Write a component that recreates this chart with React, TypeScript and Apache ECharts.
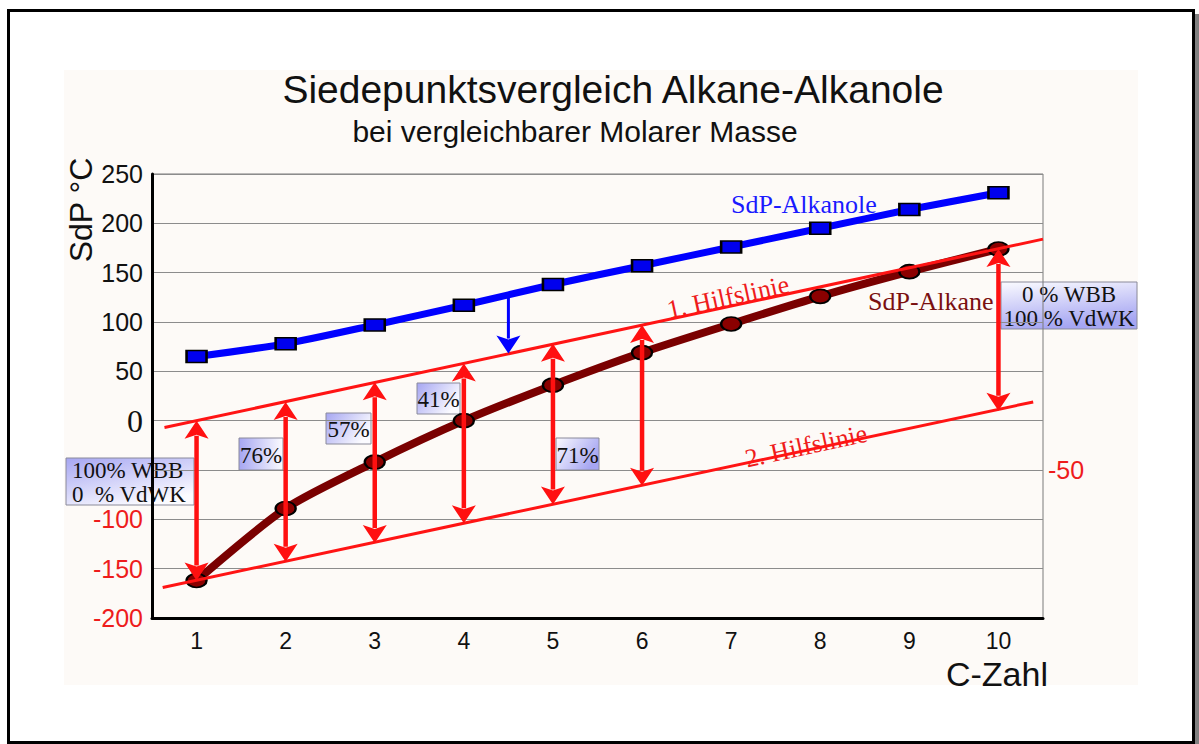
import React, { useEffect, useRef } from "react";
import * as echarts from "echarts";

const categories = ["1", "2", "3", "4", "5", "6", "7", "8", "9", "10"];
const alkanole = [65, 78, 97, 117, 138, 157, 176, 195, 214, 231];
const alkane = [-162, -89, -42, 0, 36, 69, 98, 126, 151, 174];
const hilfslinie1: [number, number][] = [[0.64, -7], [10.5, 184]];
const hilfslinie2: [number, number][] = [[0.62, -169], [10.39, 19]];
const arrowC = [1, 2, 3, 4, 5, 6, 10];
const arrowTop = [0, 19, 39, 58, 78, 97, 174];
const arrowBottom = [-162, -143, -124, -104, -85, -66, 10];
const blueArrow: [number, number, number][] = [[4.5, 127, 68]];
const yMin = -200;
const yMax = 250;
const yStep = 50;

const SANS = "'Liberation Sans', Arial, sans-serif";
const SERIF = "'Liberation Serif', 'Times New Roman', serif";
const RED = "#ee1c1c";

function makeArrow(color: string, headTop: boolean, headBottom: boolean, shaft: number) {
  return (params: any, api: any) => {
    const c = api.value(0);
    const p1 = api.coord([c, api.value(1)]);
    const p2 = api.coord([c, api.value(2)]);
    const hh = 18;
    const hw = 12;
    const children: any[] = [];
    const y1 = headTop ? p1[1] + hh - 3 : p1[1];
    const y2 = headBottom ? p2[1] - hh + 3 : p2[1];
    children.push({
      type: "line",
      shape: { x1: p1[0], y1, x2: p2[0], y2 },
      style: { stroke: color, lineWidth: shaft },
    });
    if (headTop) {
      children.push({
        type: "polygon",
        shape: {
          points: [
            [p1[0], p1[1]],
            [p1[0] - hw, p1[1] + hh],
            [p1[0], p1[1] + hh - 4],
            [p1[0] + hw, p1[1] + hh],
          ],
        },
        style: { fill: color },
      });
    }
    if (headBottom) {
      children.push({
        type: "polygon",
        shape: {
          points: [
            [p2[0], p2[1]],
            [p2[0] - hw, p2[1] - hh],
            [p2[0], p2[1] - hh + 4],
            [p2[0] + hw, p2[1] - hh],
          ],
        },
        style: { fill: color },
      });
    }
    return { type: "group", children };
  };
}

function box(
  x: number,
  y: number,
  w: number,
  h: number,
  text: string,
  grad: [number, number, number, number],
  align: "left" | "center" = "center"
) {
  return {
    type: "group",
    z: -1,
    children: [
      {
        type: "rect",
        z: -1,
        shape: { x, y, width: w, height: h },
        style: {
          fill: new echarts.graphic.LinearGradient(grad[0], grad[1], grad[2], grad[3], [
            { offset: 0, color: "#a6a6f2" },
            { offset: 1, color: "#fbfbff" },
          ]),
          stroke: "#8a8a9a",
          lineWidth: 1,
        },
      },
      {
        type: "text",
        z: -1,
        x: align === "center" ? x + w / 2 : x + 6,
        y: y + h / 2 + 1,
        style: {
          text,
          fontSize: 23,
          fontFamily: SERIF,
          fill: "#111",
          lineHeight: 24,
          align,
          verticalAlign: "middle",
          textAlign: align,
          textVerticalAlign: "middle",
        },
      },
    ],
  };
}

function label(x: number, y: number, text: string, size: number, family: string, color: string, align = "center", rotation = 0, z = 10) {
  return {
    type: "text",
    z,
    x,
    y,
    rotation,
    style: {
      text,
      fontSize: size,
      fontFamily: family,
      fill: color,
      align,
      verticalAlign: "middle",
      textAlign: align,
      textVerticalAlign: "middle",
    },
  };
}

export default function App() {
  const ref = useRef<HTMLDivElement>(null);
  useEffect(() => {
    if (!ref.current) return;
    const chart = echarts.init(ref.current, undefined, { renderer: "svg" });
    const ellipse = "path://M0,5 A10,5 0 1,1 20,5 A10,5 0 1,1 0,5 Z";
    const option: any = {
      animation: false,
      backgroundColor: "#ffffff",
      grid: {
        left: 152,
        right: 156,
        top: 174,
        bottom: 126,
        show: true,
        borderColor: "#7a7a7a",
        borderWidth: 1,
        backgroundColor: "transparent",
      },
      xAxis: [
        {
          type: "category",
          data: categories,
          boundaryGap: true,
          axisLine: { show: true, onZero: false, lineStyle: { color: "#000", width: 3 } },
          axisTick: { show: false },
          splitLine: { show: false },
          axisLabel: { fontSize: 23, fontFamily: SANS, color: "#111", margin: 11 },
        },
        { type: "value", min: 0.5, max: 10.5, show: false },
      ],
      yAxis: [
        {
          type: "value",
          min: yMin,
          max: yMax,
          interval: yStep,
          axisLine: { show: true, onZero: false, lineStyle: { color: "#000", width: 3 } },
          axisTick: { show: false },
          splitLine: { show: true, lineStyle: { color: "#8c8c8c", width: 1 } },
          axisLabel: {
            margin: 9,
            formatter: (v: number) => {
              if (v === 0) return "{z|0}";
              if (v === -50) return "";
              if (v < 0) return "{r|" + v + "}";
              return "{b|" + v + "}";
            },
            rich: {
              b: { fontSize: 25, fontFamily: SANS, color: "#111" },
              r: { fontSize: 25, fontFamily: SANS, color: RED },
              z: { fontSize: 32, fontFamily: SERIF, color: "#111" },
            },
          },
        },
        {
          type: "value",
          position: "right",
          min: yMin,
          max: yMax,
          interval: yStep,
          axisLine: { show: false },
          axisTick: { show: false },
          splitLine: { show: false },
          axisLabel: {
            margin: 5,
            fontSize: 25,
            fontFamily: SANS,
            color: RED,
            formatter: (v: number) => (v === -50 ? String(v) : ""),
          },
        },
      ],
      series: [
        {
          name: "SdP-Alkanole",
          type: "line",
          data: alkanole,
          smooth: 0.25,
          z: 3,
          lineStyle: { color: "#0000ff", width: 7 },
          symbol: "rect",
          symbolSize: [20, 12],
          itemStyle: { color: "#0000ee", borderColor: "#000", borderWidth: 2 },
        },
        {
          name: "SdP-Alkane",
          type: "line",
          data: alkane,
          smooth: 0.25,
          z: 3,
          lineStyle: { color: "#7a0000", width: 8 },
          symbol: ellipse,
          symbolSize: [20, 14],
          itemStyle: { color: "#8b0000", borderColor: "#000", borderWidth: 2 },
        },
        {
          name: "1. Hilfslinie",
          type: "line",
          xAxisIndex: 1,
          data: hilfslinie1,
          symbol: "none",
          z: 4,
          lineStyle: { color: "#ff1414", width: 3 },
        },
        {
          name: "2. Hilfslinie",
          type: "line",
          xAxisIndex: 1,
          data: hilfslinie2,
          symbol: "none",
          z: 4,
          clip: false,
          lineStyle: { color: "#ff1414", width: 3 },
        },
        {
          type: "custom",
          xAxisIndex: 1,
          z: 5,
          clip: false,
          encode: { x: 0, y: [1, 2] },
          data: arrowC.map((c, i) => [c, arrowTop[i], arrowBottom[i]]),
          renderItem: makeArrow("#ff1010", true, true, 4.5),
        },
        {
          type: "custom",
          xAxisIndex: 1,
          z: 5,
          clip: false,
          encode: { x: 0, y: [1, 2] },
          data: blueArrow,
          renderItem: makeArrow("#0000ff", false, true, 3),
        },
      ],
      graphic: [
        { type: "rect", z: -100, shape: { x: 64, y: 70, width: 1074, height: 615 }, style: { fill: "#fdfaf7" } },
        { type: "rect", z: 100, shape: { x: 1195, y: 14, width: 4, height: 730 }, style: { fill: "#808080" } },
        { type: "rect", z: 100, shape: { x: 8.5, y: 10.5, width: 1185, height: 732 }, style: { fill: "none", stroke: "#000", lineWidth: 3 } },
        label(613, 89, "Siedepunktsvergleich Alkane-Alkanole", 39, SANS, "#111"),
        label(575, 131, "bei vergleichbarer Molarer Masse", 30, SANS, "#111"),
        label(81, 210, "SdP °C", 32, SANS, "#111", "center", Math.PI / 2),
        label(1048, 674, "C-Zahl", 34, SANS, "#111", "right"),
        label(731, 204, "SdP-Alkanole", 26, SERIF, "#1a1aff", "left", 0, -2),
        label(868, 301, "SdP-Alkane", 26, SERIF, "#7a1010", "left", 0, -2),
        label(728, 297, "1. Hilfslinie", 26, SERIF, RED, "center", 0.213, -2),
        label(806, 446, "2. Hilfslinie", 26, SERIF, RED, "center", 0.213, -2),
        box(66, 458, 128, 47, "100% WBB\n0  % VdWK", [0, 0, 0.6, 1], "left"),
        box(1001, 282, 136, 47, "0 % WBB\n100 % VdWK", [0.3, 1, 0, 0]),
        box(239, 438, 44, 32, "76%", [0, 0, 1, 0]),
        box(326, 413, 45, 31, "57%", [0, 0, 1, 0.5]),
        box(417, 383, 43, 31, "41%", [0, 0, 1, 0.5]),
        box(556, 438, 43, 32, "71%", [1, 0.5, 0, 0]),
      ],
    };
    chart.setOption(option);
    return () => chart.dispose();
  }, []);
  return (
    <div
      ref={ref}
      style={{ position: "absolute", left: 0, top: 0, width: 1199, height: 744 }}
    />
  );
}
